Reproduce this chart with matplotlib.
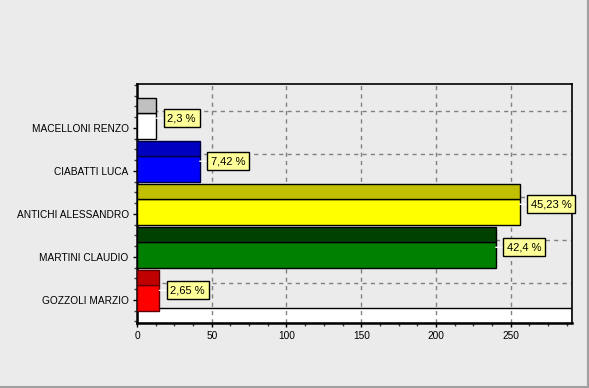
import matplotlib
matplotlib.use("Agg")
import matplotlib.pyplot as plt
from matplotlib.lines import Line2D
import numpy as np

categories = ["MACELLONI RENZO", "CIABATTI LUCA", "ANTICHI ALESSANDRO", "MARTINI CLAUDIO", "GOZZOLI MARZIO"]
values = [13, 42, 256, 240, 15]
pct_labels = ["2,3 %", "7,42 %", "45,23 %", "42,4 %", "2,65 %"]
front_colors = ["#ffffff", "#0000ff", "#ffff00", "#008000", "#ff0000"]
top_colors = ["#c0c0c0", "#0000c0", "#c0c000", "#004000", "#c00000"]
edge_colors = ["#000000", "#000040", "#000000", "#000000", "#600000"]
xticks = [0, 50, 100, 150, 200, 250]

plt.rcParams['font.family'] = ['Liberation Sans', 'DejaVu Sans']
BG = "#ebebeb"
fig = plt.figure(figsize=(5.89, 3.88), dpi=100, facecolor=BG)
W, H = 589, 388
ax = fig.add_axes([137 / W, (H - 323) / H, (572 - 137) / W, (323 - 84) / H])
ax.set_facecolor(BG)

n = len(categories)
ypos = np.arange(n)
front_h = 0.6
depth = 0.35
shift = -0.05

ax.set_xlim(0, 291)
ax.set_ylim(n - 1 + 0.535, -1.02)

# floor
ax.axhspan(n - 1 + 0.186, n - 1 + 0.535, facecolor="white", edgecolor="black", lw=1, zorder=1)

# grid
for xv in xticks[1:]:
    ax.axvline(xv, color="#808080", lw=1, ls=(0, (3, 3)), zorder=1.5)
for yv in ypos:
    ax.axhline(yv - 0.395, color="#808080", lw=1, ls=(0, (3, 3)), zorder=0.8)

# bars
fy = ypos + shift
ax.barh(fy, values, height=front_h, color=front_colors, edgecolor=edge_colors, lw=1, zorder=3)
ax.barh(fy - front_h / 2 - depth / 2, values, height=depth, color=top_colors, edgecolor=edge_colors, lw=1, zorder=3)

# labels
for y, v, lab in zip(fy, values, pct_labels):
    yc = y - depth / 2
    ax.annotate(lab, xy=(v, yc), xytext=(11, 0), textcoords="offset pixels",
                ha="left", va="center", fontsize=8, zorder=5,
                bbox=dict(boxstyle="square,pad=0.35", fc="#ffff99", ec="black", lw=1),
                arrowprops=dict(arrowstyle="-", color="white", lw=1, shrinkA=0, shrinkB=0))

ax.set_yticks(ypos)
ax.set_yticklabels(categories, fontsize=7.3)
ax.set_yticks(np.arange(-1, n - 1 + 0.6, 0.25), minor=True)
ax.set_xticks(xticks)
ax.set_xticklabels([str(t) for t in xticks], fontsize=7.3)
ax.set_xticks(np.arange(0, 291, 12.5), minor=True)
ax.tick_params(axis="both", which="major", length=3, width=1, color="black", pad=3)
ax.tick_params(axis="both", which="minor", length=2, width=1, color="#404040")

for s in ["left", "bottom"]:
    ax.spines[s].set_linewidth(1.8)
for s in ["right", "top"]:
    ax.spines[s].set_linewidth(1.2)

fig.add_artist(Line2D([1 - 1 / W, 1 - 1 / W], [0, 1], transform=fig.transFigure, color="#a0a0a0", lw=1.5))
fig.add_artist(Line2D([0, 1], [1 / H, 1 / H], transform=fig.transFigure, color="#a0a0a0", lw=1.5))

fig.savefig("out.png", dpi=100, facecolor=BG)
